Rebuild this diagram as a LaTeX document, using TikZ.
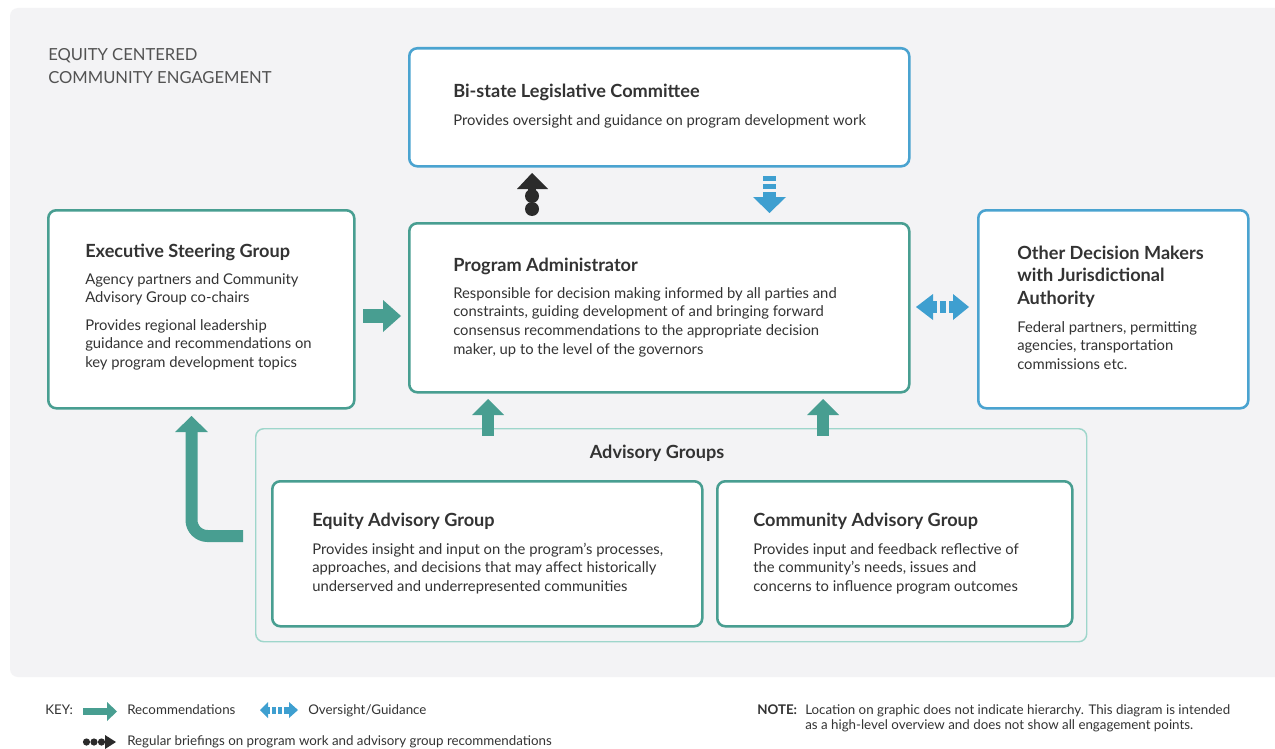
\documentclass[tikz,border=0pt]{standalone}
\usepackage{fontspec}
\setmainfont{Lato}
\definecolor{cpanel}{HTML}{F3F3F5}
\definecolor{cteal}{HTML}{489E91}
\definecolor{cblue}{HTML}{4AA3D0}
\definecolor{carrowblue}{HTML}{3E9FD0}
\definecolor{cltteal}{HTML}{9ED6CB}
\definecolor{ctext}{HTML}{333333}
\definecolor{cdark}{HTML}{2B2B2B}
\newcommand{\bodyfont}{\fontsize{11.1}{14}\selectfont}
\newcommand{\titlefont}{\fontsize{13.6}{16.9}\selectfont\bfseries}
\newcommand{\keyfont}{\fontsize{10}{12}\selectfont}
\tikzset{
  box/.style={draw=#1, line width=1.9pt, fill=white, rounded corners=6pt, anchor=north west, inner sep=0pt},
  txt/.style={anchor=base west, inner sep=0pt, text=ctext, font=\bodyfont},
  ttl/.style={anchor=base west, inner sep=0pt, text=ctext, font=\titlefont},
  keytxt/.style={anchor=base west, inner sep=0pt, text=ctext, font=\keyfont},
  tealfill/.style={fill=cteal, draw=none},
  bluefill/.style={fill=carrowblue, draw=none},
  darkfill/.style={fill=cdark, draw=none}
}
\begin{document}
\begin{tikzpicture}[x=0.75pt,y=-0.75pt]
\useasboundingbox (0,0) rectangle (1275,749);
\fill[white] (0,0) rectangle (1275,749);
\fill[cpanel, rounded corners=6pt] (10,8) rectangle (1300,677);

% title
\node[anchor=base west, inner sep=0pt, text=ctext!85, font=\fontsize{12.45}{17}\selectfont] (ttlA) at (48,61) {EQUITY CENTERED};
\node[anchor=base west, inner sep=0pt, text=ctext!85, font=\fontsize{12.45}{17}\selectfont] (ttlB) at (48,84) {COMMUNITY ENGAGEMENT};

% boxes
\node[box=cblue, minimum width=375pt, minimum height=88.5pt] (bistate) at (408,47) {};
\node[box=cteal, minimum width=375pt, minimum height=126.75pt] (padmin) at (408,222) {};
\node[box=cteal, minimum width=229.5pt, minimum height=148.5pt] (exec) at (47,209) {};
\node[box=cblue, minimum width=202.5pt, minimum height=148.5pt] (other) at (977,209) {};
\node[draw=cltteal, line width=1.1pt, rounded corners=6pt, anchor=north west, inner sep=0pt, minimum width=623.25pt, minimum height=159.75pt] (adv) at (255,428) {};
\node[box=cteal, minimum width=322.5pt, minimum height=108.75pt] (equity) at (271,480) {};
\node[box=cteal, minimum width=266.25pt, minimum height=108.75pt] (community) at (716,480) {};

% Bi-state text
\node[ttl] (bsT) at (453,98) {Bi-state Legislative Committee};
\node[txt] (bsB) at (453,126) {Provides oversight and guidance on program development work};

% Program Administrator text
\node[ttl] (paT) at (453,271) {Program Administrator};
\node[txt] (paB1) at (453,298) {Responsible for decision making informed by all parties and};
\node[txt] (paB2) at (453,316.7) {constraints, guiding development of and bringing forward};
\node[txt] (paB3) at (453,335.4) {consensus recommendations to the appropriate decision};
\node[txt] (paB4) at (453,354.1) {maker, up to the level of the governors};

% Executive Steering Group text
\node[ttl] (exT) at (85,257) {Executive Steering Group};
\node[txt] (exB1) at (85,284) {Agency partners and Community};
\node[txt] (exB2) at (85,302.7) {Advisory Group co-chairs};
\node[txt] (exB3) at (85,330) {Provides regional leadership};
\node[txt] (exB4) at (85,348.7) {guidance and recommendations on};
\node[txt] (exB5) at (85,367.4) {key program development topics};

% Other decision makers text
\node[ttl] (otT1) at (1017,259) {Other Decision Makers};
\node[ttl] (otT2) at (1017,281.5) {with Jurisdictional};
\node[ttl] (otT3) at (1017,304) {Authority};
\node[txt] (otB1) at (1017,332) {Federal partners, permitting};
\node[txt] (otB2) at (1017,350.7) {agencies, transportation};
\node[txt] (otB3) at (1017,369.4) {commissions etc.};

% Advisory groups
\node[anchor=base, inner sep=0pt, text=ctext, font=\titlefont] (advT) at (657,458) {Advisory Groups};

\node[ttl] (eqT) at (312,526) {Equity Advisory Group};
\node[txt] (eqB1) at (312,554) {Provides insight and input on the program's processes,};
\node[txt] (eqB2) at (312,572.7) {approaches, and decisions that may affect historically};
\node[txt] (eqB3) at (312,591.4) {underserved and underrepresented communities};

\node[ttl] (coT) at (753,526) {Community Advisory Group};
\node[txt] (coB1) at (753,554) {Provides input and feedback reflective of};
\node[txt] (coB2) at (753,572.7) {the community's needs, issues and};
\node[txt] (coB3) at (753,591.4) {concerns to influence program outcomes};

% ---- arrows between boxes ----
% briefings (dark) up from Program Administrator to Bi-state
\fill[darkfill] (517,189) -- (532,173) -- (548,189) -- cycle;
\fill[darkfill] (532,196) circle (7);
\fill[darkfill] (532,209) circle (7);
\fill[darkfill] (528,188) rectangle (536,198);

% oversight (blue) down from Bi-state to Program Administrator
\fill[bluefill] (763,176) rectangle (776,181);
\fill[bluefill] (763,184) rectangle (776,189);
\fill[bluefill] (763,192) rectangle (776,198);
\fill[bluefill] (753,197) -- (786,197) -- (769.5,213) -- cycle;

% recommendations exec -> padmin
\fill[tealfill] (363,309) rectangle (384,323);
\fill[tealfill] (383,300) -- (401,316) -- (383,332) -- cycle;

% oversight double arrow padmin <-> other
\fill[bluefill] (916,307) -- (933,294) -- (933,320) -- cycle;
\fill[bluefill] (932,301) rectangle (937,313);
\fill[bluefill] (940,301) rectangle (946,313);
\fill[bluefill] (949,301) rectangle (954,313);
\fill[bluefill] (953,294) -- (969,307) -- (953,320) -- cycle;

% recommendations advisory -> padmin
\fill[tealfill] (482,414) rectangle (494,436);
\fill[tealfill] (472,415) -- (488,399) -- (504,415) -- cycle;
\fill[tealfill] (817,414) rectangle (829,436);
\fill[tealfill] (807,415) -- (823,399) -- (839,415) -- cycle;

% L-shaped arrow equity -> exec
\draw[cteal, line width=9pt, rounded corners=12pt] (243,536) -- (191.5,536) -- (191.5,431);
\fill[tealfill] (175,432) -- (191.5,416) -- (208,432) -- cycle;

% ---- key ----
\node[keytxt] (keyK) at (45,714.5) {KEY:};
\fill[tealfill] (83,708) rectangle (108,715);
\fill[tealfill] (107,702) -- (117,711.5) -- (107,721) -- cycle;
\node[keytxt] (keyR) at (127,714.5) {Recommendations};

\fill[bluefill] (260,710) -- (268,702) -- (268,718) -- cycle;
\fill[bluefill] (267,706.5) rectangle (270,713.5);
\fill[bluefill] (272,706.5) rectangle (276,713.5);
\fill[bluefill] (278,706.5) rectangle (282,713.5);
\fill[bluefill] (284,706.5) rectangle (290,713.5);
\fill[bluefill] (289,702) -- (298,710) -- (289,718) -- cycle;
\node[keytxt] (keyO) at (308,714.5) {Oversight/Guidance};

\fill[darkfill] (86.5,742) circle (3.6);
\fill[darkfill] (94,742) circle (3.6);
\fill[darkfill] (101.5,742) circle (3.6);
\fill[darkfill] (105,735) -- (116,742) -- (105,749) -- cycle;
\node[keytxt] (keyB) at (127,745.5) {Regular briefings on program work and advisory group recommendations};

\node[anchor=base west, inner sep=0pt, text=ctext, font=\keyfont\bfseries] (noteH) at (757,714) {NOTE:};
\node[keytxt] (note1) at (805,714) {Location on graphic does not indicate hierarchy. This diagram is intended};
\node[keytxt] (note2) at (805,729.5) {as a high-level overview and does not show all engagement points.};
\end{tikzpicture}
\end{document}
